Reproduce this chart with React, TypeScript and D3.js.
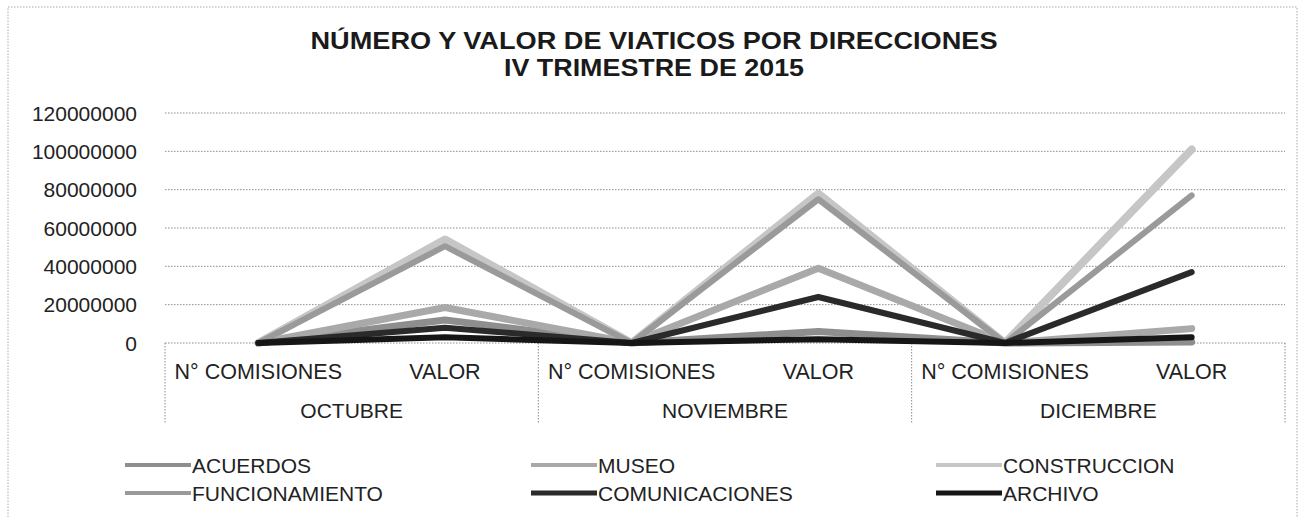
import React from "react";
import * as d3 from "d3";

const titleLines = ["NÚMERO Y VALOR DE VIATICOS POR DIRECCIONES", "IV TRIMESTRE DE 2015"];
const months = ["OCTUBRE", "NOVIEMBRE", "DICIEMBRE"];
const measures = ["N° COMISIONES", "VALOR"];
const yTicks = [0, 20000000, 40000000, 60000000, 80000000, 100000000, 120000000];

const seriesNames = ["ACUERDOS", "MUSEO", "CONSTRUCCION", "FUNCIONAMIENTO", "COMUNICACIONES", "ARCHIVO"];
// order per point: Oct N°, Oct VALOR, Nov N°, Nov VALOR, Dic N°, Dic VALOR
const acuerdos = [20, 12000000, 15, 6000000, 8, 500000];
const museo = [40, 18500000, 60, 39000000, 30, 7500000];
const construccion = [90, 54000000, 120, 78000000, 150, 101000000];
const funcionamiento = [80, 50500000, 110, 75000000, 100, 77000000];
const comunicaciones = [30, 8000000, 45, 24000000, 60, 37000000];
const archivo = [10, 3000000, 12, 2000000, 15, 3000000];

const seriesValues = [acuerdos, museo, construccion, funcionamiento, comunicaciones, archivo];
const seriesColors = ["#8e8e8e", "#a9a9a9", "#c6c6c6", "#9a9a9a", "#2a2a2a", "#161616"];
const seriesWidths = [7, 7, 8, 6, 6, 6];

const W = 1302;
const H = 518;
const plot = { left: 165, right: 1285, top: 113, bottom: 343 };
const FONT = "'Liberation Sans', Arial, sans-serif";
const TEXT = "#222";
const titleWidths = [687, 300];

export default function App() {
  const cats: string[] = [];
  months.forEach((m) => measures.forEach((s) => cats.push(m + "|" + s)));

  const x = d3.scalePoint<string>().domain(cats).range([plot.left, plot.right]).padding(0.5);
  const y = d3.scaleLinear().domain([0, 120000000]).range([plot.bottom, plot.top]);
  const monthBand = d3.scaleBand<string>().domain(months).range([plot.left, plot.right]);

  const line = d3
    .line<number>()
    .x((_, i) => x(cats[i]) as number)
    .y((d) => y(d));

  const legendCols = [125, 531, 936];
  const legendRows = [465, 493];

  return (
    <svg
      width={W}
      height={H}
      style={{ position: "absolute", left: 0, top: 0, background: "#fff" }}
      fontFamily={FONT}
    >
      <rect x={8} y={7} width={1289} height={520} fill="#fff" stroke="#aaa" strokeDasharray="1.5 1.5" />

      {titleLines.map((t, i) => (
        <text
          key={t}
          x={654}
          y={49 + i * 27}
          textAnchor="middle"
          fontSize={24}
          fontWeight="bold"
          fill="#1a1a1a"
          textLength={titleWidths[i]}
          lengthAdjust="spacingAndGlyphs"
        >
          {t}
        </text>
      ))}

      {yTicks.map((t) => (
        <g key={t}>
          <line
            x1={plot.left}
            x2={plot.right}
            y1={y(t)}
            y2={y(t)}
            stroke="#8a8a8a"
            strokeWidth={1}
            strokeDasharray="1.5 1.5"
          />
          <text x={137} y={y(t)} dy="0.36em" textAnchor="end" fontSize={21} fill={TEXT}>
            {t}
          </text>
        </g>
      ))}

      {[plot.left, ...months.map((m) => (monthBand(m) as number) + monthBand.bandwidth())].map((xx, i) => (
        <line
          key={i}
          x1={xx}
          x2={xx}
          y1={plot.bottom}
          y2={424}
          stroke="#8a8a8a"
          strokeDasharray="1.5 1.5"
        />
      ))}

      {cats.map((c) => (
        <text key={c} x={x(c)} y={379} textAnchor="middle" fontSize={21.5} fill={TEXT}>
          {c.split("|")[1]}
        </text>
      ))}
      {months.map((m) => (
        <text
          key={m}
          x={(monthBand(m) as number) + monthBand.bandwidth() / 2}
          y={418}
          textAnchor="middle"
          fontSize={21}
          fill={TEXT}
        >
          {m}
        </text>
      ))}

      {seriesValues.map((vals, i) => (
        <path
          key={seriesNames[i]}
          d={line(vals) as string}
          fill="none"
          stroke={seriesColors[i]}
          strokeWidth={seriesWidths[i]}
          strokeLinejoin="round"
          strokeLinecap="round"
        />
      ))}

      {seriesNames.map((n, i) => {
        const lx = legendCols[i % 3];
        const ly = legendRows[Math.floor(i / 3)];
        return (
          <g key={n}>
            <line x1={lx} x2={lx + 66} y1={ly} y2={ly} stroke={seriesColors[i]} strokeWidth={i >= 4 ? 5 : 4} />
            <text x={lx + 67} y={ly} dy="0.36em" fontSize={21} fill={TEXT}>
              {n}
            </text>
          </g>
        );
      })}
    </svg>
  );
}
